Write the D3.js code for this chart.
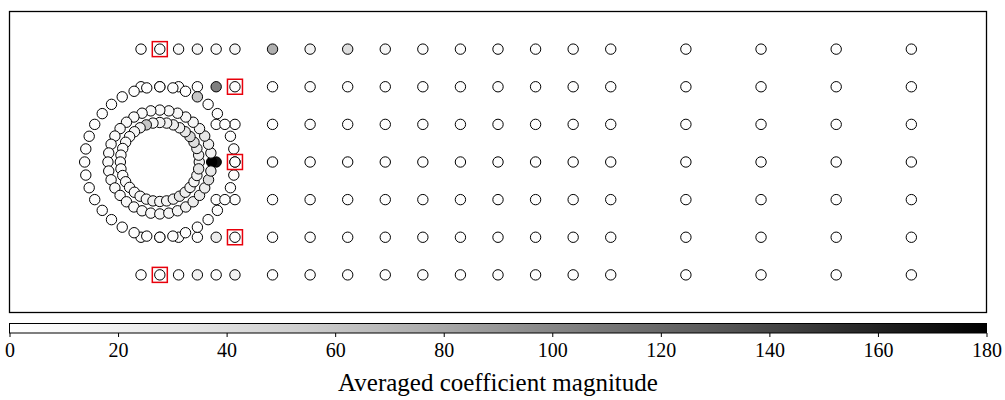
<!DOCTYPE html>
<html><head><meta charset="utf-8">
<script src="https://cdn.jsdelivr.net/npm/d3@7"></script>
<style>body{margin:0;background:#fff}svg{display:block}</style>
</head><body>
<svg id="chart" width="1005" height="400"></svg>
<script>
// Sensor layout (x downstream, y cross-stream, in cylinder diameters)
const gridCols = [-0.5, 0, 0.5, 1, 1.5, 2, 3, 4, 5, 6, 7, 8, 9, 10, 11, 12, 14, 16, 18, 20];
const gridRows = [3, 2, 1, 0, -1, -2, -3];

// Averaged coefficient magnitude of each grid sensor, one array per row (null = no sensor)
const rowP3 = [3, 6, 10, 14, 10, 14, 75, 18, 40, 14, 6, 5, 5, 5, 5, 5, 3, 3, 3, 3];
const rowP2 = [3, 3, 3, 3, 105, 3, 3, 3, 3, 3, 3, 3, 3, 3, 3, 3, 2, 2, 2, 2];
const rowP1 = [null, null, null, null, 3, 3, 3, 3, 3, 3, 3, 3, 3, 3, 3, 3, 2, 2, 2, 2];
const row0  = [null, null, null, null, 170, 3, 3, 3, 3, 3, 3, 3, 3, 3, 3, 3, 2, 2, 2, 2];
const rowM1 = [null, null, null, null, 3, 3, 3, 3, 3, 3, 3, 3, 3, 3, 3, 3, 2, 2, 2, 2];
const rowM2 = [3, 3, 3, 3, 25, 3, 3, 3, 3, 3, 3, 3, 3, 3, 3, 3, 2, 2, 2, 2];
const rowM3 = [3, 3, 3, 18, 3, 18, 3, 3, 3, 3, 3, 3, 3, 3, 3, 3, 2, 2, 2, 2];
const gridValues = [rowP3, rowP2, rowP1, row0, rowM1, rowM2, rowM3];

// Ring sensors around the cylinder, angle in degrees from the downstream axis
const ringAngles = [0, 10, 20, 30, 40, 50, 60, 70, 80, 90, 100, 110, 120, 130, 140, 150, 160, 170,
                    180, 190, 200, 210, 220, 230, 240, 250, 260, 270, 280, 290, 300, 310, 320, 330, 340, 350];
const ringRadii = [1.05, 1.38, 2.0];
const innerRing = [20, 25, 30, 40, 45, 30, 20, 25, 20, 20, 15, 60, 20, 15, 10, 10, 8, 8,
                   8, 8, 8, 10, 10, 12, 15, 15, 20, 15, 15, 20, 35, 25, 20, 15, 20, 35];
const middleRing = [180, 20, 25, 30, 20, 15, 12, 10, 10, 10, 10, 10, 10, 10, 10, 10, 8, 8,
                    8, 8, 10, 10, 10, 10, 10, 10, 12, 15, 15, 15, 20, 25, 30, 25, 40, 30];
const outerRing = [3, 3, 3, 3, 3, 3, 60, 3, 3, 3, 3, 3, 3, 3, 3, 3, 3, 3,
                   3, 3, 3, 3, 3, 3, 3, 3, 3, 3, 3, 3, 3, 3, 3, 3, 3, 3];

// Sensors picked by the selection (drawn boxed)
const selectedX = [0, 2, 2, 2, 0];
const selectedY = [3, 2, 0, -2, -3];

const colorTicks = [0, 20, 40, 60, 80, 100, 120, 140, 160, 180];
const colorMax = 180;

const svg = d3.select("#chart");
const x = d3.scaleLinear().domain([-4, 22]).range([9.5, 986.5]);
const y = d3.scaleLinear().domain([-4, 4]).range([312.5, 11.5]);
const color = d3.scaleSequential(d3.interpolateGreys).domain([0, colorMax]);
const rDot = 5.2;

// frame
svg.append("rect").attr("x", x(-4)).attr("y", y(4))
  .attr("width", x(22) - x(-4)).attr("height", y(-4) - y(4))
  .attr("fill", "#fff").attr("stroke", "#000").attr("stroke-width", 1.3);

// collect sensors
const sensors = [];
gridRows.forEach((gy, i) => gridCols.forEach((gx, j) => {
  const v = gridValues[i][j];
  if (v !== null) sensors.push({x: gx, y: gy, v});
}));
[outerRing, middleRing, innerRing].forEach((vals, k) => {
  const rr = ringRadii[2 - k];
  ringAngles.forEach((a, i) => {
    const t = a * Math.PI / 180;
    sensors.push({x: rr * Math.cos(t), y: rr * Math.sin(t), v: vals[i]});
  });
});

svg.append("g").selectAll("circle").data(sensors).join("circle")
  .attr("cx", d => x(d.x)).attr("cy", d => y(d.y)).attr("r", rDot)
  .attr("fill", d => color(d.v)).attr("stroke", "#000").attr("stroke-width", 1);

const sel = selectedX.map((sx, i) => ({x: sx, y: selectedY[i]}));
svg.append("g").selectAll("rect").data(sel).join("rect")
  .attr("x", d => x(d.x) - 7.5).attr("y", d => y(d.y) - 7.5)
  .attr("width", 15).attr("height", 15)
  .attr("fill", "none").attr("stroke", "#e8000b").attr("stroke-width", 1.5);

// colorbar
const cb = {x0: 9.5, x1: 986.5, y0: 323.5, h: 9.5};
const cx = d3.scaleLinear().domain([0, colorMax]).range([cb.x0, cb.x1]);
const grad = svg.append("defs").append("linearGradient").attr("id", "cbgrad");
d3.range(0, 1.0001, 0.02).forEach(t => grad.append("stop")
  .attr("offset", t).attr("stop-color", d3.interpolateGreys(t)));
svg.append("rect").attr("x", cb.x0).attr("y", cb.y0).attr("width", cb.x1 - cb.x0)
  .attr("height", cb.h).attr("fill", "url(#cbgrad)").attr("stroke", "#000").attr("stroke-width", 1);

const axis = d3.axisBottom(cx).tickValues(colorTicks).tickSize(4).tickPadding(6);
const ag = svg.append("g").attr("transform", `translate(0,${cb.y0 + cb.h})`).call(axis);
ag.select(".domain").remove();
ag.selectAll("line").attr("stroke", "#000");
ag.selectAll("text").attr("font-family", "'Liberation Serif', serif").attr("font-size", 20).attr("fill", "#000");

svg.append("text").attr("x", (cb.x0 + cb.x1) / 2).attr("y", 391)
  .attr("text-anchor", "middle").attr("font-family", "'Liberation Serif', serif")
  .attr("font-size", 25).text("Averaged coefficient magnitude");
</script>
</body></html>
